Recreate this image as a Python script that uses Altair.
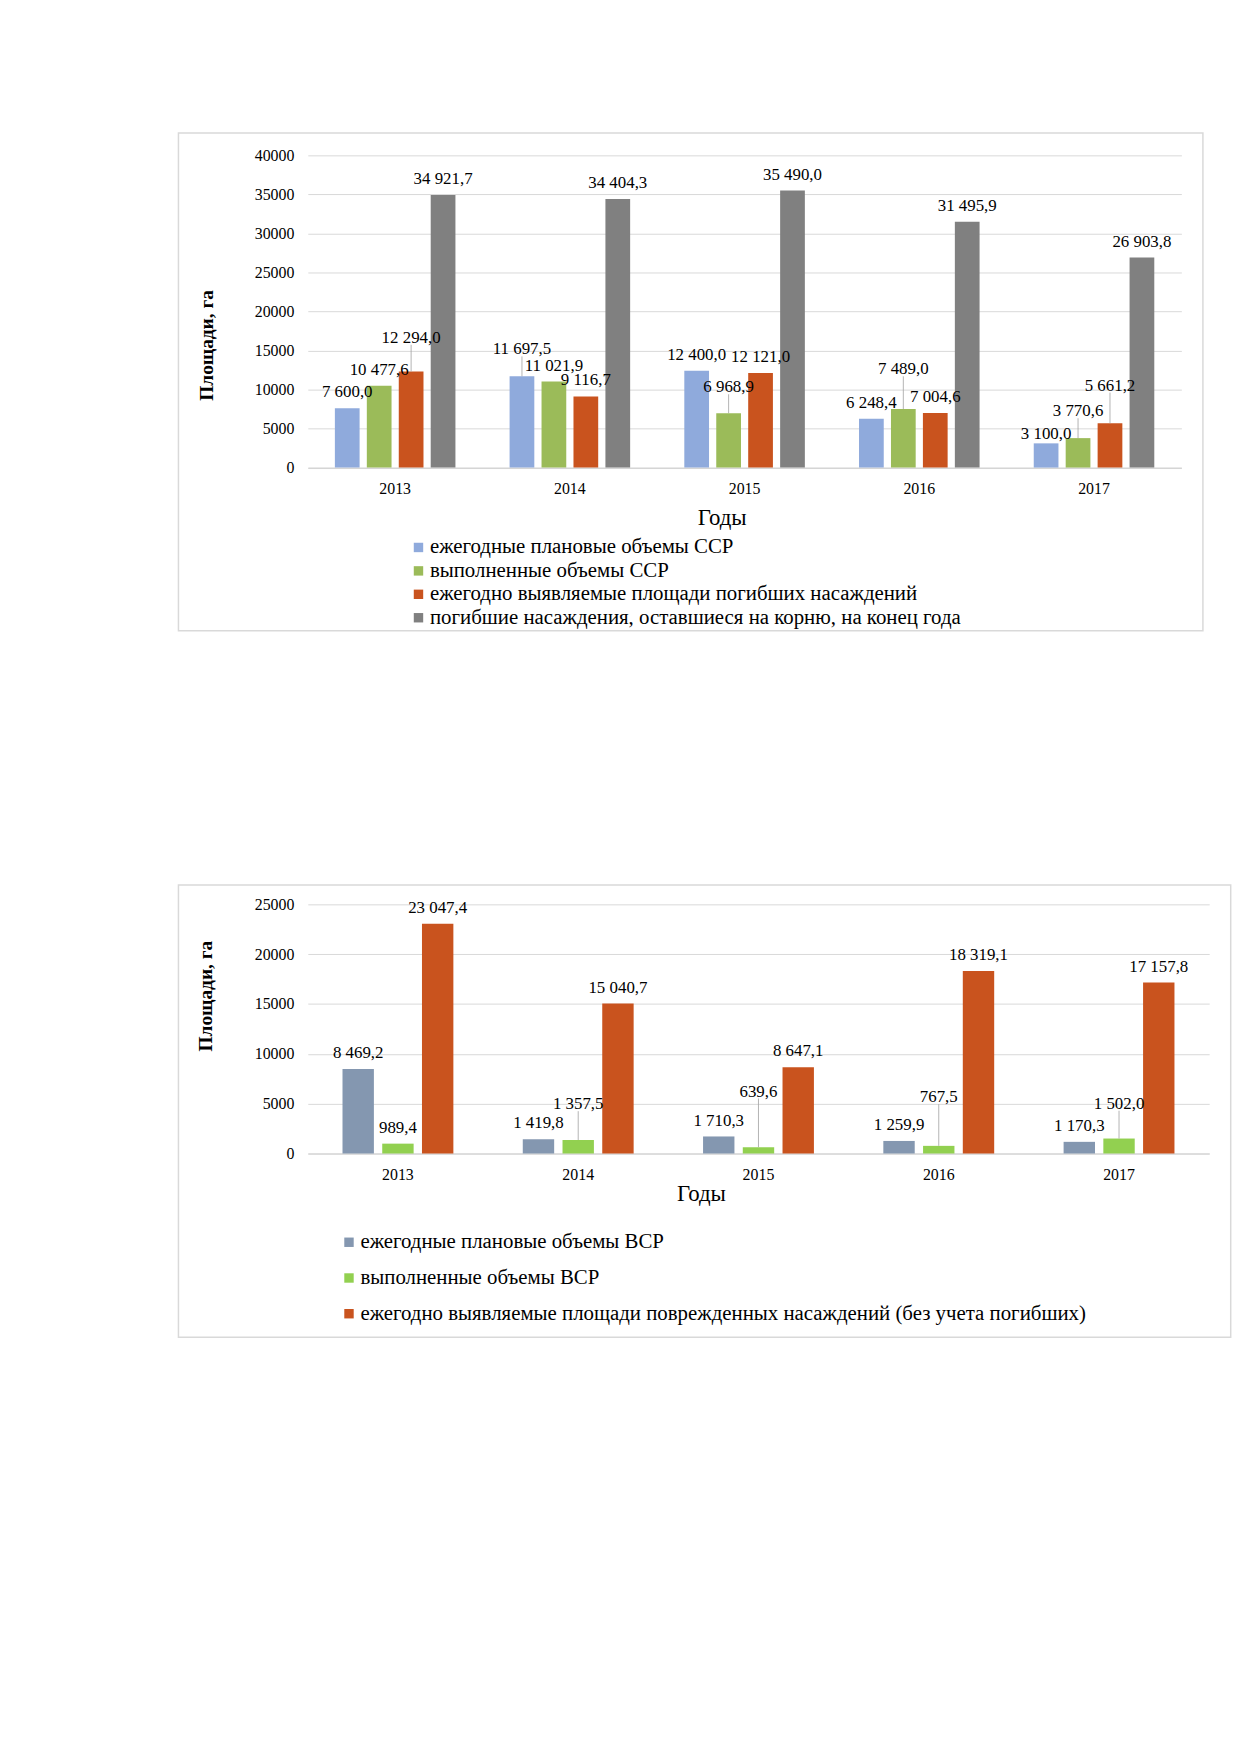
import altair as alt
import pandas as pd

FONT = "Liberation Serif"

years = ["2013", "2014", "2015", "2016", "2017"]

# ---- top chart data ----
top_series = [
    "ежегодные плановые объемы ССР",
    "выполненные объемы ССР",
    "ежегодно выявляемые площади погибших насаждений",
    "погибшие насаждения, оставшиеся на корню, на конец года",
]
top_plan = [7600.0, 11697.5, 12400.0, 6248.4, 3100.0]
top_done = [10477.6, 11021.9, 6968.9, 7489.0, 3770.6]
top_found = [12294.0, 9116.7, 12121.0, 7004.6, 5661.2]
top_left = [34921.7, 34404.3, 35490.0, 31495.9, 26903.8]
top_colors = ["#8faadc", "#9bbb59", "#c9531e", "#808080"]
# extra lift (px) of manually moved data labels, as in the source
top_lift = [
    [0, 11, 0, 0, -7],
    [0, 0, 10, 24, 11],
    [18, 0, 0, 0, 22],
    [0, 0, 0, 0, 0],
]

# ---- bottom chart data ----
bot_series = [
    "ежегодные плановые объемы ВСР",
    "выполненные объемы ВСР",
    "ежегодно выявляемые площади поврежденных насаждений (без учета погибших)",
]
bot_plan = [8469.2, 1419.8, 1710.3, 1259.9, 1170.3]
bot_done = [989.4, 1357.5, 639.6, 767.5, 1502.0]
bot_found = [23047.4, 15040.7, 8647.1, 18319.1, 17157.8]
bot_colors = ["#8497b0", "#92d050", "#c9531e"]
bot_lift = [
    [0, 0, 0, 0, 0],
    [0, 20, 40, 33, 19],
    [0, 0, 0, 0, 0],
]


def fmt(v):
    return f"{v:,.1f}".replace(",", " ").replace(".", ",")


def build_df(series, values, lifts):
    rows = []
    for s, vals, lf in zip(series, values, lifts):
        for y, v, l in zip(years, vals, lf):
            rows.append({"year": y, "series": s, "value": v, "label": fmt(v),
                         "lift": l})
    return pd.DataFrame(rows)


def panel(df, series, colors, W, H, ymax, ystep, pad_in, off_pad, frame,
          legend_x, legend_y, row_pad, ytitle_x, ytitle_y, ytitle_size,
          xtitle_x, xtitle_y, xtitle_size):
    per_px = ymax / H
    x = alt.X("year:N", sort=years,
              scale=alt.Scale(paddingInner=pad_in, paddingOuter=pad_in / 2),
              axis=alt.Axis(title="Годы", labelAngle=0, labelFont=FONT,
                            labelFontSize=16, labelColor="black",
                            labelPadding=13, ticks=False, tickSize=0,
                            domainColor="#d0d0d0", domainWidth=1, grid=False,
                            titleFont=FONT, titleFontSize=xtitle_size,
                            titleFontWeight="normal", titleColor="black",
                            titleX=xtitle_x, titleY=xtitle_y,
                            titleBaseline="middle", titleAlign="center"))
    xo = alt.XOffset("series:N", sort=series,
                     scale=alt.Scale(domain=series, paddingInner=off_pad,
                                     paddingOuter=0))
    yscale = alt.Scale(domain=[0, ymax], nice=False)
    yaxis = alt.Axis(title="Площади, га",
                     values=list(range(0, ymax + 1, ystep)),
                     format="d", labelFont=FONT, labelFontSize=16,
                     labelColor="black", labelPadding=14, ticks=False,
                     tickSize=0, domain=False, grid=True,
                     gridColor="#d9d9d9", gridWidth=1,
                     titleFont=FONT, titleFontSize=ytitle_size,
                     titleFontWeight="bold", titleColor="black",
                     titleX=ytitle_x, titleY=ytitle_y,
                     titleAngle=270, titleAlign="center",
                     titleBaseline="middle")
    y = alt.Y("value:Q", scale=yscale, axis=yaxis)
    color = alt.Color("series:N", sort=series,
                      scale=alt.Scale(domain=series, range=colors),
                      legend=alt.Legend(orient="none", legendX=legend_x,
                                        legendY=legend_y, title=None,
                                        symbolType="square", symbolSize=90,
                                        symbolStrokeWidth=0, labelFont=FONT,
                                        labelFontSize=21, labelColor="black",
                                        labelLimit=2000, rowPadding=row_pad,
                                        labelOffset=1, padding=0,
                                        direction="vertical"))

    fx, fy, fx2, fy2 = frame
    border = alt.Chart(pd.DataFrame({"k": [0]})).mark_rect(
        fillOpacity=0, stroke="#d9d9d9", strokeWidth=1.5
    ).encode(x=alt.value(fx), x2=alt.value(fx2), y=alt.value(fy),
             y2=alt.value(fy2))

    bars = alt.Chart(df).mark_bar().encode(x=x, xOffset=xo, y=y, color=color)

    leaders = alt.Chart(df).transform_filter("datum.lift >= 10").transform_calculate(
        lead_end=f"datum.value + (datum.lift + 9) * {per_px}"
    ).mark_rule(color="#a0a0a0", strokeWidth=0.8).encode(
        x=x, xOffset=xo,
        y=alt.Y("value:Q", scale=yscale, axis=yaxis),
        y2="lead_end:Q")

    labels = alt.Chart(df).transform_calculate(
        label_y=f"datum.value + datum.lift * {per_px}"
    ).mark_text(
        baseline="alphabetic", dy=-11, font=FONT, fontSize=17, color="black"
    ).encode(x=x, xOffset=xo,
             y=alt.Y("label_y:Q", scale=yscale, axis=yaxis),
             text="label:N")

    return alt.layer(border, bars, leaders, labels).properties(width=W, height=H)


top_df = build_df(top_series, [top_plan, top_done, top_found, top_left], top_lift)
bot_df = build_df(bot_series, [bot_plan, bot_done, bot_found], bot_lift)

top = panel(top_df, top_series, top_colors, W=880, H=314.5, ymax=40000,
            ystep=5000, pad_in=0.31, off_pad=0.226,
            frame=(-130.3, -22.5, 901.7, 478.8),
            legend_x=101, legend_y=384.5, row_pad=1.6,
            ytitle_x=-101.7, ytitle_y=191, ytitle_size=19.5,
            xtitle_x=417, xtitle_y=50, xtitle_size=23)

bottom = panel(bot_df, bot_series, bot_colors, W=908, H=251, ymax=25000,
               ystep=5000, pad_in=0.385, off_pad=0.21,
               frame=(-130.3, -19.6, 929.7, 436),
               legend_x=31, legend_y=329.9, row_pad=14,
               ytitle_x=-103, ytitle_y=92, ytitle_size=19.5,
               xtitle_x=396, xtitle_y=40, xtitle_size=23)

chart = alt.vconcat(top, bottom, spacing=253.5).resolve_scale(
    x="independent", y="independent", color="independent",
    xOffset="independent"
).resolve_legend(color="independent").properties(
    padding={"left": 170, "top": 119.5, "right": 0, "bottom": 5},
    background="white",
).configure_view(stroke=None)

chart.save("out.html", embed_options={"renderer": "svg", "actions": False})
